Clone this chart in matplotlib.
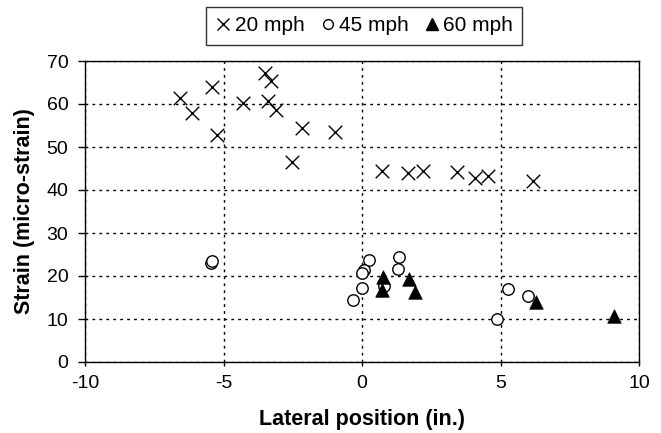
import matplotlib
matplotlib.use("Agg")
import matplotlib.pyplot as plt
from matplotlib.lines import Line2D

plt.rcParams['font.family'] = ['Liberation Sans', 'DejaVu Sans']

x20 = [-6.57, -6.14, -5.42, -5.23, -4.30, -3.50, -3.29, -3.39, -3.10, -2.17, -2.53, -0.97,
       0.72, 1.66, 2.20, 3.43, 4.08, 4.55, 6.17]
y20 = [61.3, 58.0, 64.0, 52.7, 60.3, 67.1, 65.4, 60.6, 58.7, 54.5, 46.6, 53.4,
       44.5, 43.9, 44.5, 44.3, 42.9, 43.2, 42.0]

x45 = [-5.45, -5.40, 0.25, 0.07, -0.01, -0.01, -0.34, 1.35, 1.31, 0.80, 5.28, 6.00, 4.88]
y45 = [23.0, 23.5, 23.8, 21.5, 20.6, 17.1, 14.4, 24.4, 21.7, 17.6, 16.9, 15.3, 9.9]

x60 = [0.75, 0.71, 1.71, 1.91, 6.28, 9.10]
y60 = [19.8, 16.7, 19.2, 16.3, 14.0, 10.7]

labels = ['20 mph', '45 mph', '60 mph']
xticks = [-10, -5, 0, 5, 10]
yticks = [0, 10, 20, 30, 40, 50, 60, 70]

fig = plt.figure(figsize=(6.61, 4.33), dpi=100)
ax = fig.add_axes([85/661, 1-362/433, (639-85)/661, (362-61)/433])

ax.scatter(x20, y20, marker='x', s=95, c='black', linewidths=1.0, zorder=3)
ax.scatter(x45, y45, marker='o', s=68, facecolors='white', edgecolors='black', linewidths=1.0, zorder=3)
ax.scatter(x60, y60, marker='^', s=95, c='black', linewidths=0.5, zorder=4)

ax.set_xlim(-10, 10)
ax.set_ylim(0, 70)
ax.set_xticks(xticks)
ax.set_yticks(yticks)
ax.set_xticklabels([str(t) for t in xticks])
ax.grid(True, color='black', linestyle=(0, (2, 3)), linewidth=1.0)
ax.set_axisbelow(True)
for s in ax.spines.values():
    s.set_color('black')
    s.set_linewidth(1.0)
ax.tick_params(axis='y', direction='out', length=5, width=1, labelsize=14, pad=7, colors='black')
ax.tick_params(axis='x', direction='out', length=3, width=1, labelsize=14, pad=6, colors='black')

ax.set_xlabel('Lateral position (in.)', fontsize=15.5, fontweight='bold')
ax.set_ylabel('Strain (micro-strain)', fontsize=15.5, fontweight='bold')
ax.xaxis.set_label_coords(0.5, (362-409)/301)
ax.yaxis.set_label_coords((35-85)/554, 0.5)

handles = [
    Line2D([], [], linestyle='none', marker='x', markersize=9, markeredgecolor='black', markeredgewidth=1.0),
    Line2D([], [], linestyle='none', marker='o', markersize=7, markerfacecolor='white', markeredgecolor='black', markeredgewidth=1.0),
    Line2D([], [], linestyle='none', marker='^', markersize=9, markerfacecolor='black', markeredgecolor='black'),
]
leg = fig.legend(handles, labels, loc='upper center', bbox_to_anchor=(364/661, 1-7/433), ncol=3, fontsize=15,
                 frameon=True, fancybox=False, edgecolor='black', handletextpad=0.15,
                 columnspacing=0.7, borderpad=0.45, handlelength=0.8, borderaxespad=0)
leg.get_frame().set_linewidth(1.0)

fig.savefig('out.png', dpi=100)
